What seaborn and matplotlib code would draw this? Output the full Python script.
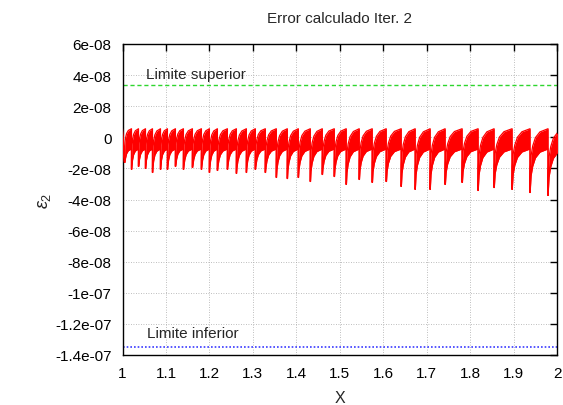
import matplotlib
matplotlib.use("Agg")
import matplotlib.pyplot as plt
import numpy as np
import pandas as pd
import seaborn as sns

# Each tooth of the error trace: x position of the sharp reset and the depth reached there
drop_x = [1.0046, 1.0207, 1.0368, 1.0529, 1.0690, 1.0874, 1.1034, 1.1218,
          1.1402, 1.1609, 1.1816, 1.2000, 1.2184, 1.2414, 1.2621, 1.2851,
          1.3057, 1.3287, 1.3540, 1.3793, 1.4046, 1.4322, 1.4598, 1.4874,
          1.5149, 1.5448, 1.5747, 1.6069, 1.6414, 1.6736, 1.7080, 1.7425,
          1.7816, 1.8184, 1.8552, 1.8966, 1.9379, 1.9793]
drop_min = [-1.61e-8, -2.06e-8, -1.87e-8, -2.00e-8, -2.26e-8, -2.06e-8, -2.06e-8, -1.87e-8,
            -2.06e-8, -1.94e-8, -2.06e-8, -2.26e-8, -2.13e-8, -2.06e-8, -2.32e-8, -2.26e-8,
            -2.06e-8, -2.26e-8, -2.58e-8, -2.65e-8, -2.58e-8, -2.84e-8, -2.39e-8, -2.52e-8,
            -3.03e-8, -2.71e-8, -2.90e-8, -2.84e-8, -3.16e-8, -3.35e-8, -3.35e-8, -3.03e-8,
            -2.90e-8, -3.42e-8, -3.23e-8, -3.35e-8, -3.55e-8, -3.74e-8]
peak_level = 5.5e-9    # top of the noisy band just before a reset
band_width = 1.3e-8    # vertical thickness of the noisy band

# Recovery of one tooth: elapsed fraction of its period vs. fraction of its depth still missing
profile_phase = [0.0, 0.02, 0.06, 0.15, 0.30, 0.55, 1.0]
profile_depth = [1.0, 0.62, 0.42, 0.27, 0.14, 0.05, 0.0]

limit_upper = 3.35e-8
limit_lower = -1.348e-7

x_ticks = [1.0, 1.1, 1.2, 1.3, 1.4, 1.5, 1.6, 1.7, 1.8, 1.9, 2.0]
x_tick_labels = ["1", "1.1", "1.2", "1.3", "1.4", "1.5", "1.6", "1.7", "1.8", "1.9", "2"]
y_ticks = [6e-8, 4e-8, 2e-8, 0.0, -2e-8, -4e-8, -6e-8, -8e-8, -1e-7, -1.2e-7, -1.4e-7]
y_tick_labels = ["6e-08", "4e-08", "2e-08", "0", "-2e-08", "-4e-08", "-6e-08",
                 "-8e-08", "-1e-07", "-1.2e-07", "-1.4e-07"]

# Upper / lower edges of the noisy band, tooth after tooth
xs = [1.0]
upper = [peak_level]
lower = [peak_level - band_width]
for i, (x0, ymin) in enumerate(zip(drop_x, drop_min)):
    period = (drop_x[i + 1] - x0) if i + 1 < len(drop_x) else (x0 - drop_x[i - 1])
    depth = peak_level - ymin
    for ph, frac in zip(profile_phase, profile_depth):
        u = peak_level - depth * frac
        xs.append(x0 + ph * period)
        upper.append(u)
        lower.append(max(ymin, u - band_width))

band = pd.DataFrame({"x": xs, "upper": upper, "lower": lower})
limits = pd.DataFrame({"x": [1.0, 2.0],
                       "sup": [limit_upper, limit_upper],
                       "inf": [limit_lower, limit_lower]})

sns.set_theme(style="white")
plt.rcParams["font.family"] = ["Liberation Sans", "DejaVu Sans"]
plt.rcParams["mathtext.fontset"] = "custom"
plt.rcParams["mathtext.rm"] = "Liberation Sans"
plt.rcParams["mathtext.it"] = "Liberation Sans:italic"

fig = plt.figure(figsize=(5.63, 4.06), dpi=100)
ax = fig.add_axes([122.5 / 563, 1 - 356 / 406, (557 - 122.5) / 563, (356 - 45) / 406])

red = "#ff0000"
ax.fill_between(band["x"], band["lower"], band["upper"], color=red, lw=0, zorder=3)
sns.lineplot(data=band, x="x", y="upper", sort=False, estimator=None,
             color=red, lw=0.9, ax=ax, zorder=4)
sns.lineplot(data=band, x="x", y="lower", sort=False, estimator=None,
             color=red, lw=0.9, ax=ax, zorder=4)

sns.lineplot(data=limits, x="x", y="sup", color="#2ed62e", lw=1.0,
             ax=ax, zorder=2).lines[-1].set_dashes([3, 2])
sns.lineplot(data=limits, x="x", y="inf", color="#3a3aff", lw=1.2,
             ax=ax, zorder=2).lines[-1].set_dashes([1, 1.2])

ax.text(1.053, 4.06e-8, "Limite superior", fontsize=11, va="center", ha="left")
ax.text(1.057, -1.258e-7, "Limite inferior", fontsize=11, va="center", ha="left")

ax.set_xlim(1.0, 2.0)
ax.set_ylim(-1.4e-7, 6e-8)
ax.set_xticks(x_ticks)
ax.set_xticklabels(x_tick_labels)
ax.set_yticks(y_ticks)
ax.set_yticklabels(y_tick_labels)
ax.tick_params(direction="in", length=5, width=1, top=True, right=True,
               labelsize=11, pad=8, colors="black")
ax.grid(True, color="#a8a8a8", lw=0.6, linestyle=(0, (1, 2)))
for sp in ax.spines.values():
    sp.set_color("black")
    sp.set_linewidth(1.0)

ax.set_title("Error calculado Iter. 2", fontsize=11, pad=16)
ax.set_xlabel("X", fontsize=11.5, labelpad=7)
ax.set_ylabel(r"$\varepsilon_2$", fontsize=13)
ax.yaxis.set_label_coords(-0.16, 0.5)

fig.savefig("out.png", dpi=100)
